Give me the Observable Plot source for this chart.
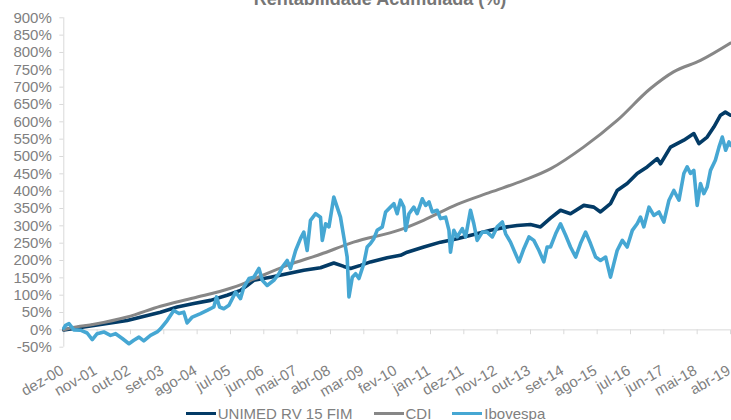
<!DOCTYPE html>
<html>
<head>
<meta charset="utf-8">
<script src="https://cdn.jsdelivr.net/npm/d3@7"></script>
<script src="https://cdn.jsdelivr.net/npm/@observablehq/plot@0.6"></script>
<style>
  html, body { margin: 0; padding: 0; background: #fff; overflow: hidden; }
  body { font-family: "Liberation Sans", Arial, sans-serif; }
  #wrap { position: relative; width: 731px; height: 420px; overflow: hidden; }
  #title { position: absolute; top: -10px; left: 0; width: 760px; text-align: center;
           font-weight: bold; font-size: 18px; line-height: 18px; color: #767676; white-space: nowrap; }
  #legend { position: absolute; top: 402px; left: 0; width: 731px; height: 22px;
            display: flex; justify-content: center; align-items: center; gap: 21px;
            font-size: 15px; color: #808080; }
  .item { display: flex; align-items: center; }
  .sw { width: 30px; height: 3px; margin-right: 2px; }
</style>
</head>
<body>
<div id="wrap">
  <div id="chart"></div>
  <div id="title">Rentabilidade Acumulada (%)</div>
  <div id="legend"></div>
</div>
<script>
// Month offsets are counted from dez-00 (0) to abr-19 (220)
const tickLabels = ["dez-00","nov-01","out-02","set-03","ago-04","jul-05","jun-06","mai-07","abr-08","mar-09",
  "fev-10","jan-11","dez-11","nov-12","out-13","set-14","ago-15","jul-16","jun-17","mai-18","abr-19"];
const tickMonths = [0,11,22,33,44,55,66,77,88,99,110,121,132,143,154,165,176,187,198,209,220];
const yTicks = [-50,0,50,100,150,200,250,300,350,400,450,500,550,600,650,700,750,800,850,900];

const seriesNames = ["UNIMED RV 15 FIM", "CDI", "Ibovespa"];

const unimedMonths = [0,9.9,20.9,31.9,37.4,42.9,48.4,53.9,58.3,60.5,
  62.7,68.2,73.7,79.2,84.7,89.1,92.4,94.6,97.9,101.2,
  106.7,111.1,113.3,118.8,124.3,129.8,135.3,140.8,146.3,149.6,
  154,157.3,160.6,163.9,167.2,171.6,174.9,177.1,180.4,182.6,
  185.9,189.2,192.5,195.8,196.9,200.2,204.6,207.9,209.6,212.3,
  214.5,216.7,218.3,220];
const unimedValues = [0,13,27,51,66,76,85,100,114,128,
  143,152,162,172,179,193,183,177,186,196,
  208,215,224,239,253,263,275,287,297,301,
  304,297,322,345,335,359,354,340,364,402,
  422,451,470,494,479,527,547,566,537,556,
  585,619,628,619];

const cdiMonths = [0,2.2,10,20.9,31.9,42.8,55,58.3,62.6,73.7,84.7,95.6,111.1,118.7,129.8,140.8,151.7,160.7,171.5,182.6,193.6,201.2,210.1,220];
const cdiValues = [0,5,16,37,68,92,120,130,146,186,218,253,289,316,362,397,431,465,527,604,696,744,777,827];

const ibovMonths = [0,0.6,1.7,3.3,5.5,7.7,9.4,11,13.2,15.4,
  17.1,19.3,21.5,23.1,24.8,26.4,28.6,30.8,31.9,34.1,
  36.3,38,39.6,40.7,42.4,45.1,47.3,49.5,50.4,51.4,
  52.8,54.5,56.7,58.3,59.4,61.1,62.7,64.4,65.5,67.1,
  69.3,71,72.1,73.7,74.8,76.5,78.1,79.2,80.3,81.4,
  83.1,84.7,85.3,86.4,87.5,89.1,90.2,91.3,92.4,93.5,
  94.1,95.2,96.3,97.4,99,100.1,101.2,102.3,103.4,105.1,
  106.2,107.8,108.9,110,111.1,112.2,112.8,113.9,115.5,116.6,
  118.3,119.4,120.5,121.6,123.2,124.3,126,127.1,127.6,128.7,
  129.8,131.5,132.6,134.2,135.3,136.4,138.1,139.7,141.4,143,
  144.7,145.8,147.4,150.2,151.8,153.5,155.1,156.8,158.4,159.5,
  160.6,162.3,163.9,165.6,167.2,168.9,170.5,172.2,173.8,175.5,
  177.1,178.8,180.4,181.5,182.6,184.3,185.9,187.6,189.2,190.3,
  191.4,193.1,194.7,196.4,198,199.7,201.3,203,204.6,205.7,
  206.8,207.9,209,210.1,211.2,212.3,213.4,215,216.2,217.3,
  218.4,219.5,220];
const ibovValues = [5,13,18,0,-1,-9,-28,-11,-6,-16,
  -11,-25,-40,-30,-21,-32,-16,-6,3,27,
  56,47,51,20,37,47,56,66,95,66,
  61,71,109,90,123,148,152,177,143,128,
  143,162,181,200,177,229,263,282,229,316,
  335,325,258,306,297,383,354,325,268,210,
  95,152,162,148,191,239,249,263,287,297,
  340,354,364,335,374,354,287,335,354,335,
  378,359,369,340,345,321,325,287,224,287,
  268,292,268,345,306,258,282,282,268,297,
  311,277,253,196,234,268,258,229,196,239,
  239,277,306,273,239,210,249,282,249,210,
  200,210,152,191,229,258,239,287,306,325,
  297,354,330,340,311,374,402,374,451,470,
  451,460,359,422,393,412,460,489,527,556,
  518,542,532];

const colors = {"UNIMED RV 15 FIM": "#033b66", "CDI": "#878787", "Ibovespa": "#46a7d3"};
const widths = {"UNIMED RV 15 FIM": 3.6, "CDI": 3, "Ibovespa": 3.6};

const toRows = (name, ms, vs) => ms.map((m, i) => ({series: name, month: m, value: vs[i]}));
const unimed = toRows(seriesNames[0], unimedMonths, unimedValues);
const cdi = toRows(seriesNames[1], cdiMonths, cdiValues);
const ibov = toRows(seriesNames[2], ibovMonths, ibovValues);

const axisGray = "#d9d9d9";
const textGray = "#808080";

const chart = Plot.plot({
  width: 731,
  height: 398,
  marginTop: 17.3,
  marginBottom: 51.3,
  marginLeft: 63.3,
  marginRight: 1,
  style: {fontFamily: "'Liberation Sans', Arial, sans-serif", fontSize: "15px", background: "#fff"},
  x: {type: "linear", domain: [0, 220], axis: null},
  y: {domain: [-50, 900], axis: null},
  marks: [
    Plot.ruleX([0], {stroke: axisGray, strokeWidth: 1}),
    Plot.ruleY([0], {stroke: axisGray, strokeWidth: 1}),
    Plot.ruleX(tickMonths, {x: d => d, y1: 0, y2: -14, stroke: axisGray}),
    Plot.axisY(yTicks, {tickFormat: d => d + "%", tickSize: 4, tickPadding: 8, label: null,
      stroke: axisGray, fill: textGray, fontSize: 15}),
    Plot.text(tickMonths, {x: d => d, text: (d, i) => tickLabels[i], frameAnchor: "bottom",
      rotate: -30, textAnchor: "end", lineAnchor: "middle", dy: 22, dx: -1.5,
      fill: textGray, fontSize: 15}),
    Plot.line(unimed, {x: "month", y: "value", stroke: colors[seriesNames[0]], strokeWidth: widths[seriesNames[0]], strokeLinejoin: "round"}),
    Plot.line(cdi, {x: "month", y: "value", stroke: colors[seriesNames[1]], strokeWidth: widths[seriesNames[1]], curve: "monotone-x"}),
    Plot.line(ibov, {x: "month", y: "value", stroke: colors[seriesNames[2]], strokeWidth: widths[seriesNames[2]], strokeLinejoin: "round"})
  ]
});
document.getElementById("chart").appendChild(chart);

const legend = document.getElementById("legend");
seriesNames.forEach(name => {
  const item = document.createElement("div");
  item.className = "item";
  const sw = document.createElement("span");
  sw.className = "sw";
  sw.style.background = colors[name];
  const label = document.createElement("span");
  label.textContent = name;
  item.appendChild(sw);
  item.appendChild(label);
  legend.appendChild(item);
});
</script>
</body>
</html>
